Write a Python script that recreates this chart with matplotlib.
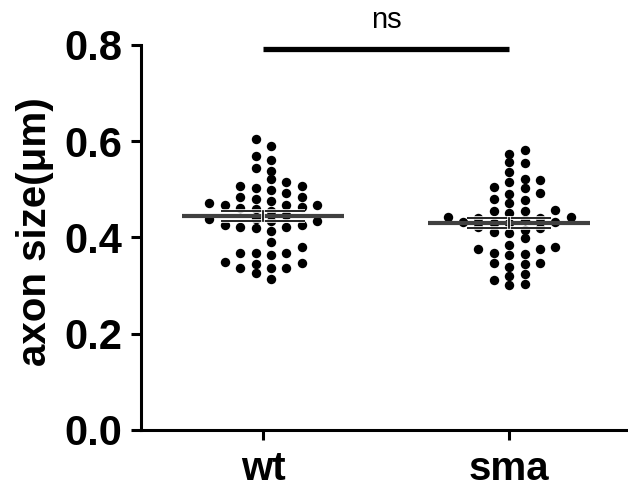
import numpy as np
import matplotlib
matplotlib.use('Agg')
import matplotlib.pyplot as plt
import matplotlib.patheffects as pe

categories = ['wt', 'sma']
wt_values = [0.485, 0.468, 0.426,
             0.507, 0.459, 0.435, 0.345,
             0.507, 0.476, 0.419, 0.381, 0.364, 0.337,
             0.590, 0.570, 0.539, 0.521, 0.499, 0.461, 0.438, 0.414, 0.368, 0.337, 0.313,
             0.605, 0.562, 0.544, 0.516, 0.493, 0.471, 0.438, 0.421, 0.368, 0.350, 0.326,
             0.502, 0.485, 0.468, 0.454, 0.421, 0.390, 0.368, 0.337,
             0.468, 0.447, 0.426, 0.348,
             0.480, 0.463, 0.434]
sma_values = [0.455, 0.440,
              0.433, 0.366,
              0.490, 0.442, 0.416, 0.376, 0.348,
              0.574, 0.522, 0.504, 0.472, 0.450, 0.433, 0.412, 0.345, 0.321, 0.301,
              0.554, 0.537, 0.516, 0.478, 0.430, 0.409, 0.364, 0.339, 0.312,
              0.582, 0.556, 0.519, 0.493, 0.457, 0.440, 0.419, 0.398, 0.380, 0.348, 0.324, 0.303,
              0.502, 0.480, 0.442, 0.422, 0.384, 0.367,
              0.454, 0.430, 0.376,
              0.436]
yticks = [0.0, 0.2, 0.4, 0.6, 0.8]
ytick_labels = ['0.0', '0.2', '0.4', '0.6', '0.8']
ylabel = 'axon size(μm)'
sig_label = 'ns'

plt.rcParams['font.family'] = ['Liberation Sans', 'DejaVu Sans']


def swarm_offsets(values, d, step):
    vals = np.asarray(values, dtype=float)
    order = np.argsort(vals)
    srt = np.sort(vals)
    dens = max(np.sum((srt >= v) & (srt < v + d)) for v in srt)
    half = 0.5 if dens % 2 == 0 else 0.0
    cands = []
    for k in range(0, 30):
        if half:
            cands += [k + 0.5, -(k + 0.5)]
        else:
            cands += [k, -k] if k else [0]
    placed = {}
    offs = np.zeros(len(vals))
    for i in order:
        for c in cands:
            if all(abs(vals[i] - v) >= d for v in placed.get(c, [])):
                placed.setdefault(c, []).append(vals[i])
                offs[i] = c * step
                break
    return offs


fig = plt.figure(figsize=(6.28, 4.88), dpi=100)
ax = fig.add_axes([0.2253, 0.1189, 0.7747, 0.7889])

groups = [wt_values, sma_values]
for i, vals in enumerate(groups):
    vals = np.asarray(vals)
    offs = swarm_offsets(vals, 0.0177, 0.0626)
    ax.scatter(i + offs, vals, s=46, c='black', linewidths=0, zorder=3, clip_on=False)
    m = vals.mean()
    sem = vals.std(ddof=1) / np.sqrt(len(vals))
    ax.plot([i - 0.33, i + 0.33], [m, m], color='#404040', lw=3.0,
            solid_capstyle='butt', zorder=4)
    halo = [pe.Stroke(linewidth=2.6, foreground='white'), pe.Normal()]
    for yy in (m - sem, m + sem):
        ax.plot([i - 0.17, i + 0.17], [yy, yy], color='black', lw=1.2,
                solid_capstyle='butt', zorder=5, path_effects=halo)
    ax.plot([i, i], [m - sem, m + sem], color='black', lw=1.2, zorder=5,
            path_effects=halo)

# significance bar
ax.plot([0, 1], [0.792, 0.792], color='black', lw=3.8, solid_capstyle='butt',
        clip_on=False, zorder=6)
ax.text(0.5, 0.852, sig_label, ha='center', va='center', fontsize=21)

ax.set_xlim(-0.495, 1.4825)
ax.set_ylim(0, 0.8)
ax.set_xticks(range(len(categories)))
ax.set_xticklabels(categories, fontsize=29, fontweight='bold')
ax.set_yticks(yticks)
ax.set_yticklabels(ytick_labels, fontsize=30, fontweight='bold')
ax.spines['top'].set_visible(False)
ax.spines['right'].set_visible(False)
for s in ('left', 'bottom'):
    ax.spines[s].set_linewidth(2.2)
ax.tick_params(axis='both', length=7.5, width=2.2, direction='out')
ax.tick_params(axis='y', pad=6.5)
ax.tick_params(axis='x', pad=7)
ax.set_ylabel(ylabel, fontsize=29, fontweight='bold')
ax.yaxis.set_label_coords(-0.219, 0.514)
ax.yaxis.label.set_verticalalignment('center')

fig.savefig('out.png', dpi=100)
